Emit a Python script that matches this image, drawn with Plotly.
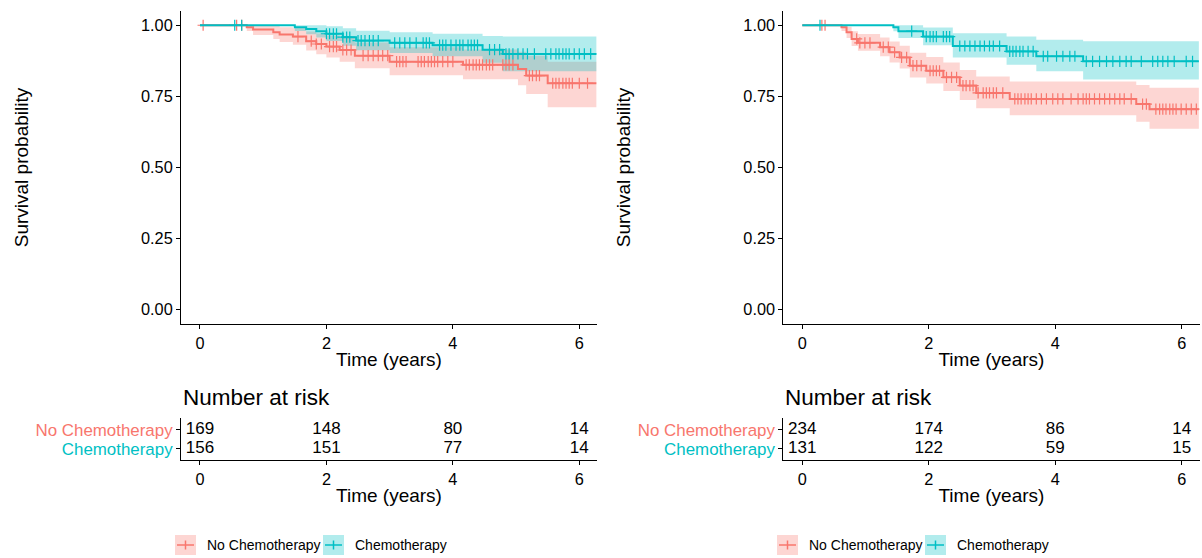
import numpy as np
import plotly.graph_objects as go

# ---------------- data ----------------
GROUPS = ["No Chemotherapy", "Chemotherapy"]
END_TIME = 6.27

# Left panel - No Chemotherapy
L_no_time = [0, 0.74, 0.84, 1.16, 1.26, 1.47, 1.68, 1.84, 2.0, 2.21, 2.45, 3.0, 4.16, 5.03, 5.16, 5.5]
L_no_surv = [1.0, 0.993, 0.985, 0.975, 0.967, 0.96, 0.944, 0.934, 0.925, 0.913, 0.893, 0.872, 0.861, 0.846, 0.823, 0.796]
L_no_lower = [1.0, 0.980, 0.966, 0.952, 0.941, 0.931, 0.911, 0.898, 0.887, 0.872, 0.849, 0.824, 0.810, 0.789, 0.758, 0.712]
L_no_upper = [1.0, 1.0, 1.0, 0.998, 0.993, 0.989, 0.978, 0.971, 0.964, 0.955, 0.939, 0.923, 0.915, 0.907, 0.893, 0.872]
L_no_censor = [0.05, 0.58, 0.66, 1.55, 1.76, 1.84, 1.92, 2.05, 2.11, 2.16, 2.26, 2.32, 2.39, 2.58, 2.66,
               2.74, 2.82, 2.89, 2.97, 3.11, 3.16, 3.21, 3.26, 3.45, 3.50, 3.55, 3.61, 3.66, 3.71, 3.76,
               3.84, 3.92, 4.00, 4.21, 4.26, 4.32, 4.37, 4.42, 4.47, 4.53, 4.58, 4.63, 4.79, 4.84, 4.89,
               4.95, 5.21, 5.26, 5.32, 5.37, 5.58, 5.63, 5.68, 5.74, 5.79, 5.84, 5.89, 6.00, 6.13]

# Left panel - Chemotherapy
L_ch_time = [0, 1.5, 1.68, 1.84, 2.0, 2.26, 2.47, 3.0, 3.68, 4.47, 4.79]
L_ch_surv = [1.0, 0.993, 0.987, 0.979, 0.970, 0.958, 0.946, 0.938, 0.930, 0.914, 0.899]
L_ch_lower = [1.0, 0.980, 0.968, 0.957, 0.945, 0.928, 0.912, 0.902, 0.891, 0.868, 0.838]
L_ch_upper = [1.0, 1.0, 1.0, 1.0, 0.996, 0.989, 0.981, 0.975, 0.970, 0.962, 0.960]
L_ch_censor = [0.55, 0.66, 2.0, 2.05, 2.11, 2.16, 2.26, 2.32, 2.37, 2.50, 2.55, 2.61, 2.68, 2.74, 2.82,
               3.08, 3.16, 3.24, 3.32, 3.42, 3.53, 3.58, 3.63, 3.79, 3.84, 3.89, 3.97, 4.05, 4.11, 4.16,
               4.24, 4.29, 4.34, 4.39, 4.58, 4.66, 4.74, 4.84, 4.89, 4.95, 5.03, 5.11, 5.18, 5.29, 5.47,
               5.55, 5.63, 5.68, 5.74, 5.79, 5.84, 5.92, 6.00, 6.08, 6.18]

# Right panel - No Chemotherapy
R_no_time = [0, 0.62, 0.70, 0.78, 0.88, 1.23, 1.38, 1.54, 1.70, 1.96, 2.23, 2.49, 2.75, 3.28, 5.28, 5.49]
R_no_surv = [1.0, 0.993, 0.975, 0.952, 0.938, 0.923, 0.905, 0.887, 0.858, 0.840, 0.817, 0.788, 0.762, 0.741, 0.723, 0.705]
R_no_lower = [1.0, 0.980, 0.955, 0.927, 0.910, 0.891, 0.869, 0.848, 0.816, 0.795, 0.769, 0.737, 0.708, 0.684, 0.661, 0.636]
R_no_upper = [1.0, 1.0, 0.995, 0.979, 0.969, 0.957, 0.943, 0.928, 0.903, 0.888, 0.869, 0.843, 0.820, 0.802, 0.790, 0.780]
R_no_censor = [0.31, 0.36, 0.86, 0.91, 0.99, 1.07, 1.28, 1.36, 1.46, 1.57, 1.65, 1.75, 1.81, 1.88, 2.02,
               2.07, 2.12, 2.17, 2.28, 2.36, 2.44, 2.54, 2.59, 2.65, 2.70, 2.78, 2.86, 2.91, 2.96, 3.02,
               3.07, 3.17, 3.36, 3.41, 3.46, 3.52, 3.57, 3.62, 3.70, 3.78, 3.86, 3.96, 4.04, 4.12, 4.25,
               4.36, 4.44, 4.49, 4.54, 4.62, 4.70, 4.78, 4.86, 4.94, 5.02, 5.09, 5.20, 5.38, 5.44, 5.59,
               5.65, 5.70, 5.75, 5.81, 5.86, 5.91, 5.99, 6.07, 6.15, 6.23]

# Right panel - Chemotherapy
R_ch_time = [0, 1.44, 1.52, 1.91, 2.38, 3.23, 3.70, 4.44]
R_ch_surv = [1.0, 0.993, 0.979, 0.960, 0.927, 0.908, 0.891, 0.873]
R_ch_lower = [1.0, 0.979, 0.955, 0.930, 0.887, 0.861, 0.838, 0.809]
R_ch_upper = [1.0, 1.0, 1.0, 0.992, 0.972, 0.960, 0.949, 0.944]
R_ch_censor = [0.28, 1.73, 1.96, 2.02, 2.07, 2.12, 2.23, 2.28, 2.33, 2.49, 2.57, 2.65, 2.73, 2.81, 2.88,
               2.96, 3.02, 3.12, 3.28, 3.33, 3.38, 3.44, 3.49, 3.57, 3.65, 3.81, 3.88, 4.02, 4.12, 4.23,
               4.31, 4.49, 4.59, 4.70, 4.81, 4.91, 5.02, 5.12, 5.20, 5.36, 5.54, 5.62, 5.70, 5.78, 5.88,
               6.07, 6.17]

# Number at risk
RISK_TIMES = [0, 2, 4, 6]
L_risk_no = [169, 148, 80, 14]
L_risk_ch = [156, 151, 77, 14]
R_risk_no = [234, 174, 86, 14]
R_risk_ch = [131, 122, 59, 15]

Y_TICKS = [0, 0.25, 0.5, 0.75, 1.0]
X_TICKS = [0, 2, 4, 6]

# ---------------- style ----------------
RED = "#F8766D"
TEAL = "#00BFC4"
RED_FILL = "rgba(248,118,109,0.3)"
TEAL_FILL = "rgba(0,191,196,0.3)"
FONT = "Liberation Sans, Arial, sans-serif"
W, H = 1202, 558


def px(x):
    return x / W


def py(y):
    return 1 - y / H


fig = go.Figure()


def step(times, vals):
    return list(times) + [END_TIME], list(vals) + [vals[-1]]


def add_band(times, lower, upper, fill, xa, ya):
    xs, up = step(times, upper)
    _, lo = step(times, lower)
    fig.add_trace(go.Scatter(x=xs, y=up, mode="lines", line=dict(width=0, shape="hv"),
                             xaxis=xa, yaxis=ya, showlegend=False, hoverinfo="skip"))
    fig.add_trace(go.Scatter(x=xs, y=lo, mode="lines", line=dict(width=0, shape="hv"),
                             fill="tonexty", fillcolor=fill,
                             xaxis=xa, yaxis=ya, showlegend=False, hoverinfo="skip"))


def add_curve(times, surv, censor, color, xa, ya):
    xs, ys = step(times, surv)
    fig.add_trace(go.Scatter(x=xs, y=ys, mode="lines", line=dict(width=2, color=color, shape="hv"),
                             xaxis=xa, yaxis=ya, showlegend=False))
    idx = np.searchsorted(np.array(times), np.array(censor), side="right") - 1
    cy = np.array(surv)[idx]
    fig.add_trace(go.Scatter(x=censor, y=cy, mode="markers",
                             marker=dict(symbol="cross-thin", size=8, line=dict(width=1.2, color=color)),
                             xaxis=xa, yaxis=ya, showlegend=False))


panels = [
    ("x", "y", (L_no_time, L_no_surv, L_no_lower, L_no_upper, L_no_censor),
     (L_ch_time, L_ch_surv, L_ch_lower, L_ch_upper, L_ch_censor)),
    ("x2", "y2", (R_no_time, R_no_surv, R_no_lower, R_no_upper, R_no_censor),
     (R_ch_time, R_ch_surv, R_ch_lower, R_ch_upper, R_ch_censor)),
]
for xa, ya, no, ch in panels:
    add_band(no[0], no[2], no[3], RED_FILL, xa, ya)
    add_band(ch[0], ch[2], ch[3], TEAL_FILL, xa, ya)
    add_curve(no[0], no[1], no[4], RED, xa, ya)
    add_curve(ch[0], ch[1], ch[4], TEAL, xa, ya)

# risk tables
for xa, ya, rno, rch in [("x3", "y3", L_risk_no, L_risk_ch), ("x4", "y4", R_risk_no, R_risk_ch)]:
    fig.add_trace(go.Scatter(x=RISK_TIMES, y=[2] * 4, mode="text", text=[str(v) for v in rno],
                             textfont=dict(size=17, color="black", family=FONT),
                             xaxis=xa, yaxis=ya, showlegend=False, hoverinfo="skip"))
    fig.add_trace(go.Scatter(x=RISK_TIMES, y=[1] * 4, mode="text", text=[str(v) for v in rch],
                             textfont=dict(size=17, color="black", family=FONT),
                             xaxis=xa, yaxis=ya, showlegend=False, hoverinfo="skip"))

XR = [-0.3, 6.28]
LEFT_DOM = [px(181), px(597)]
RIGHT_DOM = [px(783.3), px(1199.5)]
KM_YDOM = [py(324), py(11)]
TAB_YDOM = [py(460), py(418)]

base_axis = dict(showline=True, linecolor="black", linewidth=1, ticks="outside", ticklen=4,
                 tickcolor="black", tickwidth=1, showgrid=False, zeroline=False,
                 tickfont=dict(size=16.3, color="black", family=FONT))

title_font = dict(size=19, color="black", family=FONT)

xkm = dict(base_axis, range=XR, tickvals=X_TICKS,
           title=dict(text="Time (years)", font=title_font, standoff=2))
ykm = dict(base_axis, range=[-0.05, 1.05], tickvals=Y_TICKS, tickformat=".2f",
           title=dict(text="Survival probability", font=title_font, standoff=107))
xtab = dict(base_axis, range=XR, tickvals=X_TICKS,
            title=dict(text="Time (years)", font=title_font, standoff=2))
ytab_text = ['<span style="color:%s">%s</span>' % (TEAL, GROUPS[1]),
             '<span style="color:%s">%s</span>' % (RED, GROUPS[0])]
ytab = dict(base_axis, range=[0.42, 2.63], tickvals=[1, 2], ticktext=ytab_text,
            tickfont=dict(size=16.9, family=FONT))

fig.update_layout(
    width=W, height=H, margin=dict(l=0, r=0, t=0, b=0),
    paper_bgcolor="white", plot_bgcolor="white",
    font=dict(family=FONT, color="black"),
    showlegend=False,
    xaxis=dict(xkm, domain=LEFT_DOM, anchor="y"),
    yaxis=dict(ykm, domain=KM_YDOM, anchor="x"),
    xaxis2=dict(xkm, domain=RIGHT_DOM, anchor="y2"),
    yaxis2=dict(ykm, domain=KM_YDOM, anchor="x2"),
    xaxis3=dict(xtab, domain=LEFT_DOM, anchor="y3"),
    yaxis3=dict(ytab, domain=TAB_YDOM, anchor="x3"),
    xaxis4=dict(xtab, domain=RIGHT_DOM, anchor="y4"),
    yaxis4=dict(ytab, domain=TAB_YDOM, anchor="x4"),
)

# table titles
for x0 in (181, 783.3):
    fig.add_annotation(x=px(x0), y=py(397), xref="paper", yref="paper", text="Number at risk",
                       showarrow=False, xanchor="left", yanchor="middle",
                       font=dict(size=22.5, color="black", family=FONT))

# manual legends (ggplot-style keys)
legend_items = [
    (175, 205, RED, RED_FILL, GROUPS[0]),
    (323, 353, TEAL, TEAL_FILL, GROUPS[1]),
    (777, 807, RED, RED_FILL, GROUPS[0]),
    (925, 955, TEAL, TEAL_FILL, GROUPS[1]),
]
LY = 545
for kx, tx, col, fill, label in legend_items:
    fig.add_shape(type="rect", xref="paper", yref="paper", x0=px(kx), x1=px(kx + 21),
                  y0=py(LY + 10), y1=py(LY - 10), fillcolor=fill, line=dict(width=0), layer="below")
    fig.add_shape(type="line", xref="paper", yref="paper", x0=px(kx + 2), x1=px(kx + 19),
                  y0=py(LY), y1=py(LY), line=dict(color=col, width=1.5))
    fig.add_shape(type="line", xref="paper", yref="paper", x0=px(kx + 10.5), x1=px(kx + 10.5),
                  y0=py(LY - 4.5), y1=py(LY + 4.5), line=dict(color=col, width=1.5))
    fig.add_annotation(x=px(tx), y=py(LY), xref="paper", yref="paper", text=label, showarrow=False,
                       xanchor="left", yanchor="middle", font=dict(size=14, color="black", family=FONT))

fig.write_html("out.html")
